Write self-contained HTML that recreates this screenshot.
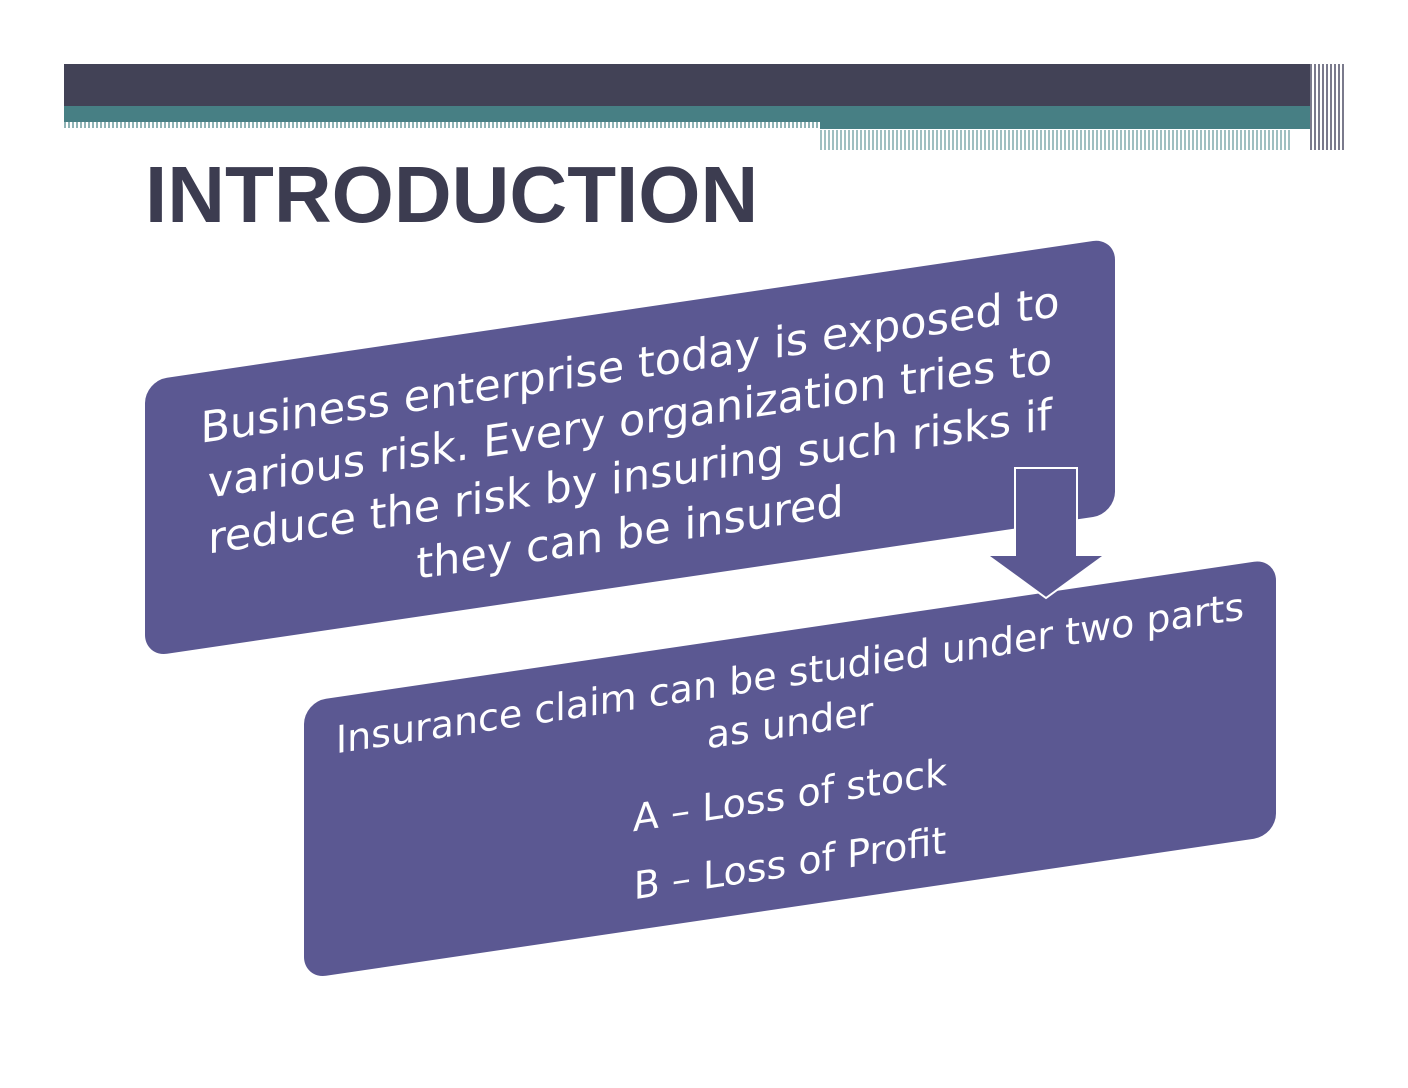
<!DOCTYPE html>
<html><head><style>
html,body{margin:0;padding:0;background:#fff;}
body{width:1408px;height:1088px;position:relative;overflow:hidden;font-family:"Liberation Sans",sans-serif;}
.a{position:absolute;}
.box{position:absolute;background:#5b5892;border-radius:22px;transform-origin:0 0;transform:skewY(-8.4deg);color:#fff;text-align:center;box-sizing:border-box;font-family:"DejaVu Sans","Liberation Sans",sans-serif;}
.box div{white-space:nowrap;}
</style></head><body>
<div class="a" style="left:64px;top:64px;width:1246px;height:42px;background:#424256"></div>
<div class="a" style="left:64px;top:106px;width:1246px;height:16px;background:#477f84"></div>
<div class="a" style="left:820px;top:122px;width:490px;height:7px;background:#477f84"></div>
<div class="a" style="left:64px;top:122px;width:756px;height:6px;background:repeating-linear-gradient(90deg,#8fb3b5 0 2px,#fff 2px 4px)"></div>
<div class="a" style="left:820px;top:130px;width:470px;height:20px;background:repeating-linear-gradient(90deg,#9fbfc1 0 2px,#fff 2px 4px)"></div>
<div class="a" style="left:1310px;top:64px;width:34px;height:86px;background:repeating-linear-gradient(90deg,#7a7a8c 0 2px,#fff 2px 4px)"></div>
<div class="a" style="left:145px;top:150px;font-size:80px;font-weight:bold;color:#3c3c50;line-height:90px;">INTRODUCTION</div>

<div class="box" style="left:145px;top:381px;width:970px;height:276px;font-size:43px;line-height:56px;padding-top:28px;">
<div>Business enterprise today is exposed to</div>
<div>various risk. Every organization tries to</div>
<div>reduce the risk by insuring such risks if</div>
<div>they can be insured</div>
</div>

<div class="box" style="left:304px;top:702px;width:972px;height:277px;font-size:38px;line-height:50px;padding-top:18px;">
<div>Insurance claim can be studied under two parts</div>
<div>as under</div>
<div style="margin-top:22px;">A – Loss of stock</div>
<div style="margin-top:18px;">B – Loss of Profit</div>
</div>

<svg class="a" style="left:0;top:0" width="1408" height="1088">
<polygon points="1015,468 1077,468 1077,555 1105,555 1046,598 987,555 1015,555" fill="#5b5892" stroke="#fff" stroke-width="2"/>
</svg>
</body></html>
